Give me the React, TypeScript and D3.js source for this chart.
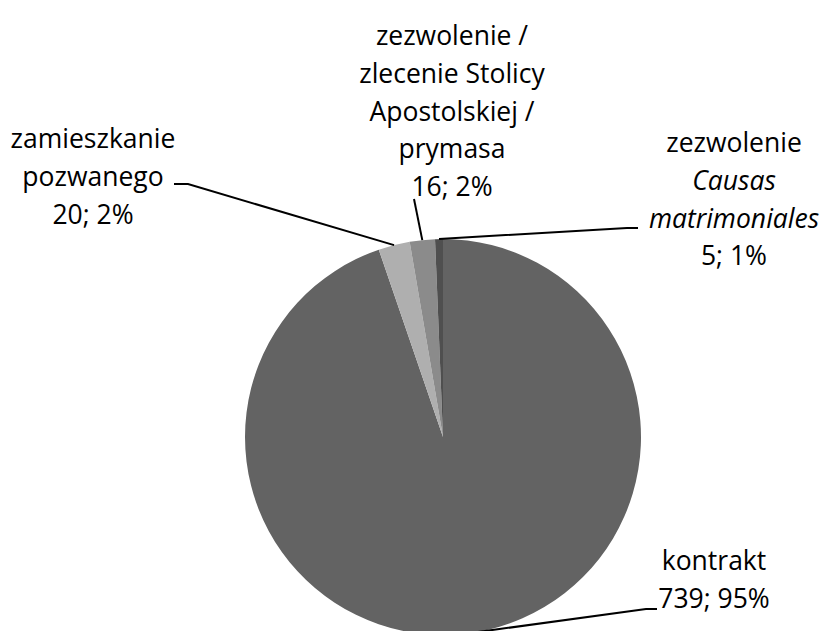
import React from 'react';
import * as d3 from 'd3';

// values
const categories = [
    'kontrakt',
    'zamieszkanie pozwanego',
    'zezwolenie / zlecenie Stolicy Apostolskiej / prymasa',
    'zezwolenie Causas matrimoniales',
];
const counts = [739, 20, 16, 5];
const percentLabels = ['95%', '2%', '2%', '1%'];
const sliceColors = ['#636363', '#afafaf', '#8b8b8b', '#4f4f4f'];

// label text lines (italic flag per line) and where each label block sits
const labelLines = [
    [['kontrakt', false]],
    [['zamieszkanie', false], ['pozwanego', false]],
    [['zezwolenie /', false], ['zlecenie Stolicy', false], ['Apostolskiej /', false], ['prymasa', false]],
    [['zezwolenie', false], ['Causas', true], ['matrimoniales', true]],
];
const labelLayout = [
    { x: 714, y: 561, elbow: [657, 609], bend: [646, 609] },
    { x: 93, y: 139, elbow: [174, 184], bend: [188, 184] },
    { x: 452, y: 36, elbow: [414, 199], bend: [414, 199] },
    { x: 734, y: 143, elbow: [638, 228], bend: [627, 228] },
];

const width = 830, height = 631;
const cx = 443, cy = 437, radius = 198;
const lineH = 37.7;

export default function App() {
    const pie = d3.pie<number>().sort(null).startAngle(0).endAngle(Math.PI * 2);
    const arcs = pie(counts);
    const arc = d3.arc<d3.PieArcDatum<number>>().innerRadius(0).outerRadius(radius);

    return (
        <svg width={width} height={height}
            style={{ position: 'absolute', left: 0, top: 0, background: '#fff' }}
            fontFamily="Open Sans, sans-serif" fontSize={26.5}>
            <g transform={`translate(${cx},${cy})`}>
                {arcs.map((a, i) => (
                    <path key={i} d={arc(a) || ''} fill={sliceColors[i]} />
                ))}
            </g>
            {arcs.map((a, i) => {
                const mid = (a.startAngle + a.endAngle) / 2;
                const px = cx + radius * Math.sin(mid);
                const py = cy - radius * Math.cos(mid);
                const L = labelLayout[i];
                const pts = [L.elbow, L.bend, [px, py]];
                return (
                    <path key={'l' + i} d={d3.line()(pts as [number, number][]) || ''}
                        fill="none" stroke="#000" strokeWidth={2} />
                );
            })}
            {labelLines.map((lines, i) => {
                const L = labelLayout[i];
                const all = [...lines, [`${counts[i]}; ${percentLabels[i]}`, false]];
                return (
                    <text key={'t' + i} textAnchor="middle" fill="#000">
                        {all.map((ln, j) => (
                            <tspan key={j} x={L.x} y={L.y + j * lineH} dy="0.35em"
                                fontStyle={ln[1] ? 'italic' : 'normal'}>{ln[0] as string}</tspan>
                        ))}
                    </text>
                );
            })}
        </svg>
    );
}
